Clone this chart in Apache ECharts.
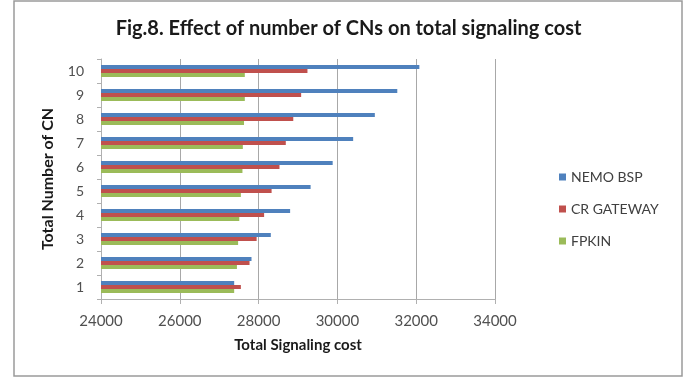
<!DOCTYPE html>
<html>
<head>
<meta charset="utf-8">
<style>
  html, body { margin: 0; padding: 0; background: #fff; }
  #chart { width: 697px; height: 378px; }
</style>
<script src="https://cdn.jsdelivr.net/npm/echarts@6/dist/echarts.min.js"></script>
</head>
<body>
<div id="chart"></div>
<script>
// Number of correspondent nodes (CNs)
const categories = ['1', '2', '3', '4', '5', '6', '7', '8', '9', '10'];

// Total signaling cost per scheme
const nemoBsp   = [27380, 27820, 28310, 28800, 29320, 29880, 30400, 30950, 31520, 32080];
const crGateway = [27550, 27770, 27950, 28140, 28330, 28530, 28690, 28880, 29080, 29240];
const fpkin     = [27380, 27450, 27480, 27510, 27550, 27590, 27600, 27630, 27650, 27650];

const xTicks = { min: 24000, max: 34000, step: 2000 };

const FONT = 'Lato, "Open Sans", sans-serif';
const chart = echarts.init(document.getElementById('chart'));

chart.setOption({
  backgroundColor: '#ffffff',
  animation: false,
  graphic: [{
    type: 'rect',
    shape: { x: 14, y: 1, width: 668, height: 375 },
    style: { fill: 'none', stroke: '#9a9a9a', lineWidth: 1.5 },
    silent: true
  }],
  title: {
    text: 'Fig.8. Effect of number of CNs on total signaling cost',
    left: 'center',
    top: 14,
    textStyle: { fontFamily: FONT, fontSize: 20, fontWeight: 'bold', color: '#1a1a1a' }
  },
  legend: {
    orient: 'vertical',
    left: 554,
    top: 165,
    itemWidth: 7,
    itemHeight: 7,
    itemGap: 18,
    icon: 'rect',
    data: ['NEMO BSP', 'CR GATEWAY', 'FPKIN'],
    textStyle: { fontFamily: FONT, fontSize: 14, color: '#404040' }
  },
  grid: { left: 101, right: 202, top: 59, bottom: 79 },
  xAxis: {
    type: 'value',
    min: xTicks.min,
    max: xTicks.max,
    interval: xTicks.step,
    name: 'Total Signaling cost',
    nameLocation: 'middle',
    nameGap: 39,
    nameTextStyle: { fontFamily: FONT, fontSize: 15, fontWeight: 'bold', color: '#1a1a1a' },
    axisLine: { show: true, lineStyle: { color: '#b0b0b0' } },
    axisTick: { show: true, length: 5, lineStyle: { color: '#b0b0b0' } },
    axisLabel: { fontFamily: FONT, fontSize: 15, color: '#505050', margin: 15,
      formatter: v => String(v) },
    splitLine: { show: true, lineStyle: { color: '#a8a8a8', width: 1 } }
  },
  yAxis: {
    type: 'category',
    data: categories,
    name: 'Total Number of CN',
    nameLocation: 'middle',
    nameGap: 45,
    nameRotate: 90,
    nameTextStyle: { fontFamily: FONT, fontSize: 16, fontWeight: 'bold', color: '#1a1a1a' },
    axisLine: { show: true, lineStyle: { color: '#b0b0b0' } },
    axisTick: { show: true, length: 4, lineStyle: { color: '#b0b0b0' } },
    axisLabel: { fontFamily: FONT, fontSize: 14, color: '#505050', margin: 17 }
  },
  series: [
    { name: 'NEMO BSP', type: 'bar', data: nemoBsp, barWidth: 4, barGap: 0, barCategoryGap: '50%',
      itemStyle: { color: '#4F81BD' } },
    { name: 'CR GATEWAY', type: 'bar', data: crGateway, barWidth: 4, barGap: 0,
      itemStyle: { color: '#C0504D' } },
    { name: 'FPKIN', type: 'bar', data: fpkin, barWidth: 4, barGap: 0,
      itemStyle: { color: '#9BBB59' } }
  ]
});
</script>
</body>
</html>
